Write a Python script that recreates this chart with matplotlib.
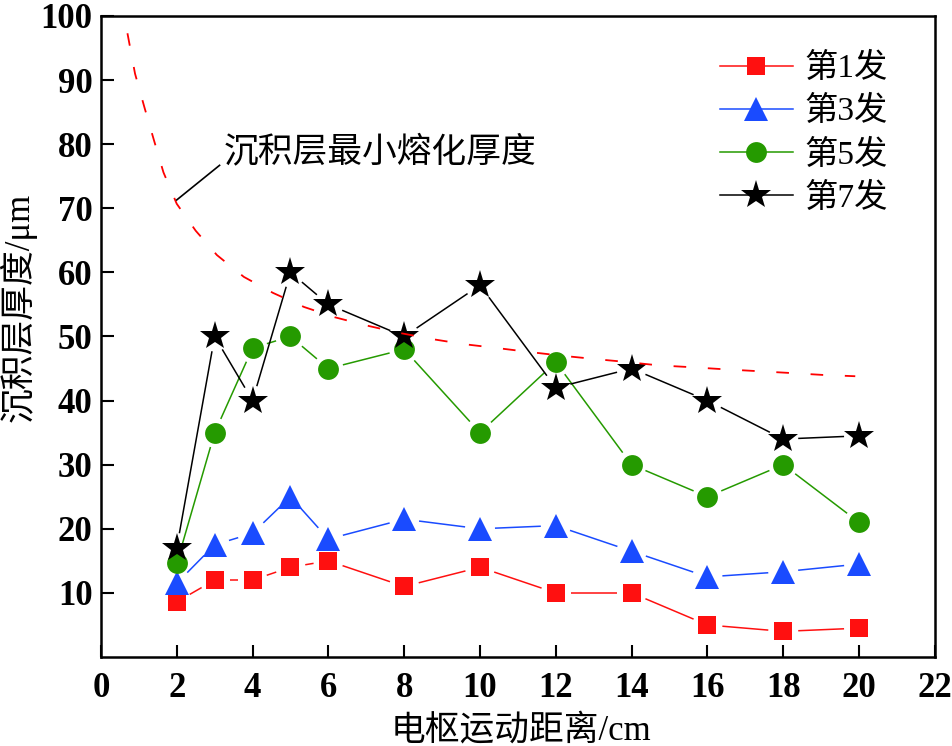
import numpy as np
import matplotlib
matplotlib.use('Agg')
import matplotlib.pyplot as plt
from matplotlib.lines import Line2D

plt.rcParams['font.family'] = ['Liberation Serif', 'Noto Sans CJK SC']
plt.rcParams['axes.unicode_minus'] = False

distance = [2, 3, 4, 5, 6, 8, 10, 12, 14, 16, 18, 20]
shot1 = [8.6, 12, 12, 14, 15, 11, 14, 10, 10, 5, 4, 4.5]
shot3 = [11.5, 17.5, 19.3, 25, 18.4, 21.5, 20, 20.5, 16.5, 12.5, 13.3, 14.5]
shot5 = [14.6, 35, 48.2, 50, 45, 48, 35, 46, 30, 25, 30, 21]
shot7 = [17, 50, 40, 60, 55, 50, 58, 42, 45, 40, 34, 34.5]

# 最小熔化厚度曲线
melt_x = [0.7, 0.9, 1.15, 1.4, 1.65, 2.0, 2.5, 3.06, 3.77, 4.54, 5.36, 6.17, 7.02,
          7.84, 8.73, 9.58, 10.45, 11.27, 12.16, 13.0, 13.9, 14.7, 15.6, 16.4,
          17.3, 18.2, 19.05, 19.9]
melt_y = [97.3, 91.0, 85.7, 80.6, 75.6, 70.7, 66.5, 62.7, 59.3, 56.8, 54.6, 53.0,
          51.7, 50.6, 49.6, 48.8, 48.2, 47.6, 47.0, 46.5, 46.0, 45.5, 45.2, 44.9,
          44.6, 44.3, 44.0, 43.8]

series = [
    ('第1发', shot1, '#FF1010', 's', 13.5),
    ('第3发', shot3, '#1A4BFF', '^', 17),
    ('第5发', shot5, '#259A00', 'o', 15),
    ('第7发', shot7, 'black', '*', 22),
]

fig = plt.figure(figsize=(9.52, 7.46), dpi=100)
ax = fig.add_axes([0.106, 0.1193, 0.876, 0.8593])
ax.set_xlim(0, 22)
ax.set_ylim(0, 100)


def gapped_line(xs, ys, color, gap=15):
    # Origin 风格：线段在符号附近断开
    pts = ax.transData.transform(np.column_stack([xs, ys]))
    inv = ax.transData.inverted()
    for p0, p1 in zip(pts[:-1], pts[1:]):
        d = p1 - p0
        L = np.hypot(*d)
        if L <= 2 * gap:
            continue
        u = d / L
        seg = inv.transform(np.array([p0 + u * gap, p1 - u * gap]))
        ax.plot(seg[:, 0], seg[:, 1], color=color, lw=1.1, solid_capstyle='butt')


handles = []
for label, vals, color, mk, ms in series:
    gapped_line(distance, vals, color)
    ax.plot(distance, vals, linestyle='none', marker=mk, markersize=ms,
            color=color, markeredgewidth=0)
    handles.append(Line2D([], [], color=color, lw=1.1, marker=mk, markersize=ms,
                          markeredgewidth=0, label=label))

ax.plot(melt_x, melt_y, color='red', lw=1.3, dashes=(7, 12))

ax.plot([2.0, 3.13], [71.3, 76.7], color='black', lw=1.2)
ax.text(3.25, 78.6, '沉积层最小熔化厚度', fontsize=25, va='center', ha='left')

ax.set_xticks(range(0, 23, 2))
ax.set_yticks(range(10, 101, 10))
ax.tick_params(direction='in', length=9, width=1.5, labelsize=25, top=False, right=False)
ax.tick_params(axis='x', pad=11)
ax.tick_params(axis='y', pad=6)
for lab in ax.get_xticklabels() + ax.get_yticklabels():
    lab.set_fontweight('bold')
for sp in ax.spines.values():
    sp.set_linewidth(1.8)

ax.set_xlabel('电枢运动距离/cm', fontsize=25)
ax.set_ylabel('沉积层厚度/μm', fontsize=25)
ax.xaxis.set_label_coords(0.504, -0.09)
ax.yaxis.set_label_coords(-0.077, 0.546)

ax.legend(handles=handles, loc='upper left', bbox_to_anchor=(0.742, 0.942),
          frameon=False, fontsize=24, handlelength=2.2, handletextpad=0.35,
          labelspacing=0.36, borderpad=0, borderaxespad=0, numpoints=1)

fig.savefig('out.png', dpi=100)
